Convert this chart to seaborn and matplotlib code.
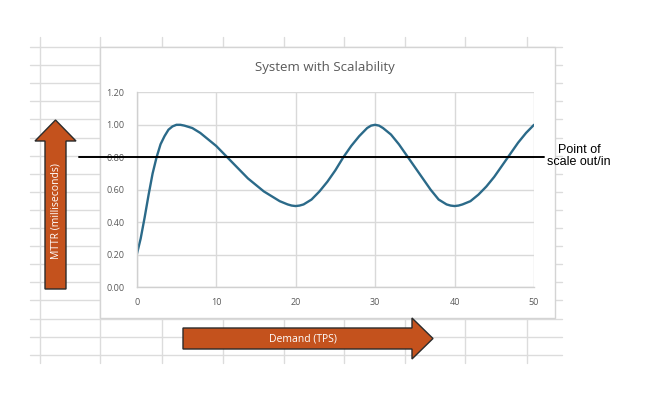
import matplotlib
matplotlib.use("Agg")
import matplotlib.pyplot as plt
import matplotlib.patches as mpatches
import seaborn as sns
import pandas as pd

# values
demand = [0, 0.5, 1, 1.5, 2, 2.5, 3, 3.5, 4, 4.5, 5, 5.5, 6, 7, 8, 9, 10,
          11, 12, 13, 14, 15, 16, 17, 18, 19, 19.5, 20, 20.5, 21, 22, 23, 24, 25,
          26, 27, 28, 29, 29.5, 30, 30.5, 31, 32, 33, 34, 35, 36, 37, 38, 39, 39.5, 40,
          40.5, 41, 42, 43, 44, 45, 46, 47, 48, 49, 50]
mttr = [0.20, 0.30, 0.43, 0.57, 0.70, 0.80, 0.88, 0.93, 0.97, 0.99, 1.00, 1.00, 0.995, 0.98, 0.95, 0.91, 0.87,
        0.82, 0.77, 0.72, 0.67, 0.63, 0.59, 0.56, 0.53, 0.51, 0.503, 0.50, 0.503, 0.51, 0.54, 0.59, 0.65, 0.72,
        0.80, 0.87, 0.93, 0.98, 0.995, 1.00, 0.995, 0.98, 0.94, 0.88, 0.81, 0.74, 0.67, 0.60, 0.54, 0.51, 0.503, 0.50,
        0.503, 0.51, 0.53, 0.57, 0.62, 0.68, 0.75, 0.82, 0.89, 0.95, 1.00]
x_ticks = [0, 10, 20, 30, 40, 50]
y_ticks = [0.0, 0.2, 0.4, 0.6, 0.8, 1.0, 1.2]
threshold = 0.80

title = "System with Scalability"
y_label = "MTTR (milliseconds)"
x_label = "Demand (TPS)"
note = "Point of\nscale out/in"

df = pd.DataFrame({"demand": demand, "mttr": mttr})

sns.set_theme(style="white")
plt.rcParams["font.family"] = ["Open Sans", "DejaVu Sans"]

W, H = 647, 397
fig = plt.figure(figsize=(W / 100, H / 100), dpi=100)

# background axes in pixel units (spreadsheet look)
bg = fig.add_axes([0, 0, 1, 1])
bg.set_xlim(0, W)
bg.set_ylim(H, 0)
bg.axis("off")

grid_c = "#dcdcdc"
for gx in [40, 100, 162, 223, 284, 344, 405, 465, 527]:
    bg.plot([gx, gx], [37, 363], color=grid_c, lw=1)
for k in range(18):
    gy = 47 + 18.1 * k
    bg.plot([30, 562], [gy, gy], color=grid_c, lw=1)

# chart box
bg.add_patch(mpatches.Rectangle((100, 47), 455, 271, facecolor="white",
                                edgecolor="#d4d4d4", lw=1, zorder=3))
bg.text(325, 67, title, ha="center", va="center", fontsize=9.5,
        color="#595959", zorder=4)

# main plot area
ax = fig.add_axes([136.7 / W, 1 - 287.3 / H, (534 - 136.7) / W, (287.3 - 92.3) / H])
ax.set_zorder(5)
ax.patch.set_alpha(0)
sns.lineplot(data=df, x="demand", y="mttr", ax=ax, color="#2B6A89", lw=1.7,
             solid_joinstyle="round", solid_capstyle="round")
ax.set_xlim(0, 50)
ax.set_ylim(0, 1.2)
ax.set_xticks(x_ticks)
ax.set_yticks(y_ticks)
ax.set_yticklabels([f"{v:.2f}" for v in y_ticks])
ax.grid(True, color="#d9d9d9", lw=1)
for s in ["top", "right"]:
    ax.spines[s].set_visible(False)
for s in ["left", "bottom"]:
    ax.spines[s].set_color("#d0d0d0")
    ax.spines[s].set_linewidth(1)
ax.tick_params(axis="both", length=0, labelsize=6.5, labelcolor="#595959")
ax.tick_params(axis="y", pad=9)
ax.tick_params(axis="x", pad=8)
ax.set_xlabel("")
ax.set_ylabel("")

# threshold line
ax.axhline(threshold, xmin=(79 - 136.7) / 397.3, xmax=(544 - 136.7) / 397.3,
           color="black", lw=1.4, clip_on=False, zorder=6)

# overlay axes for arrows and note
ov = fig.add_axes([0, 0, 1, 1])
ov.set_xlim(0, W)
ov.set_ylim(H, 0)
ov.axis("off")
ov.set_zorder(7)

arrow_c = "#C4521D"
ov.add_patch(mpatches.FancyArrow(55.5, 289, 0, -169, width=21, head_width=41,
                                 head_length=21, length_includes_head=True,
                                 facecolor=arrow_c, edgecolor="#2b2b2b", lw=1))
ov.text(55.5, 211, y_label, rotation=90, ha="center", va="center",
        fontsize=7.5, color="white")

ov.add_patch(mpatches.FancyArrow(183, 338.5, 250, 0, width=21, head_width=41,
                                 head_length=21, length_includes_head=True,
                                 facecolor=arrow_c, edgecolor="#2b2b2b", lw=1))
ov.text(303, 339, x_label, ha="center", va="center", fontsize=7.5, color="white")

ov.text(579, 156, note, ha="center", va="center", fontsize=9,
        color="black", family=["Liberation Sans", "DejaVu Sans"], linespacing=1.1)

fig.savefig("out.png", dpi=100)
